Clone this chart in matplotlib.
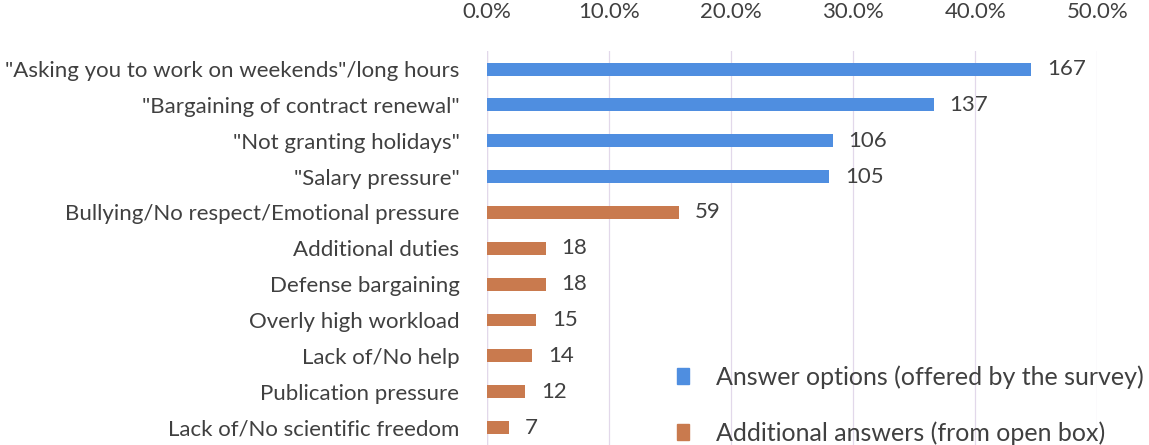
import matplotlib
matplotlib.use("Agg")
import matplotlib.pyplot as plt
from matplotlib.patches import Patch

plt.rcParams['font.family'] = ['Lato', 'DejaVu Sans']

# 数据
labels = ['"Asking you to work on weekends"/long hours',
          '"Bargaining of contract renewal"',
          '"Not granting holidays"',
          '"Salary pressure"',
          'Bullying/No respect/Emotional pressure',
          'Additional duties',
          'Defense bargaining',
          'Overly high workload',
          'Lack of/No help',
          'Publication pressure',
          'Lack of/No scientific freedom']
counts = [167, 137, 106, 105, 59, 18, 18, 15, 14, 12, 7]
shares = [0.446, 0.366, 0.283, 0.280, 0.157, 0.048, 0.048, 0.040, 0.037, 0.031, 0.018]
is_offered = [True, True, True, True, False, False, False, False, False, False, False]

blue = '#4f8ee0'
orange = '#c97a4e'
txt = '#404040'
fs = 16

fig = plt.figure(figsize=(11.49, 4.45), dpi=100)
ax = fig.add_axes([0.424, -0.005, 0.531, 0.89])

ypos = list(range(len(labels)))
colors = [blue if o else orange for o in is_offered]
ax.barh(ypos, shares, height=0.36, color=colors, zorder=3)

for y, s, c in zip(ypos, shares, counts):
    ax.text(s + 0.013, y, str(c), va='center', ha='left', fontsize=fs, color=txt)

ax.set_ylim(len(labels) - 0.45, -0.5)
ax.set_xlim(0, 0.5)
ax.set_yticks(ypos)
ax.set_yticklabels(labels, fontsize=fs, color=txt)
ax.set_xticks([0, 0.1, 0.2, 0.3, 0.4, 0.5])
ax.set_xticklabels(['0.0%', '10.0%', '20.0%', '30.0%', '40.0%', '50.0%'], fontsize=fs, color=txt)
ax.xaxis.tick_top()
ax.tick_params(length=0, pad=20)
ax.tick_params(axis='x', pad=21)
ax.grid(axis='x', color='#e2d8ea', linewidth=0.9, zorder=0)
for sp in ax.spines.values():
    sp.set_visible(False)
ax.axvline(0, color='#d8d0e2', linewidth=0.9, zorder=1)

# 图例
handles = [Patch(color=blue, label='Answer options (offered by the survey)'),
           Patch(color=orange, label='Additional answers (from open box)')]
leg = ax.legend(handles=handles, loc='lower left', bbox_to_anchor=(0.311, 0.006),
                frameon=False, fontsize=18, labelspacing=1.3, borderpad=0,
                borderaxespad=0, handlelength=0.5, handleheight=0.6, handletextpad=1.05)
for t in leg.get_texts():
    t.set_color(txt)

plt.savefig('out.png', dpi=100)
